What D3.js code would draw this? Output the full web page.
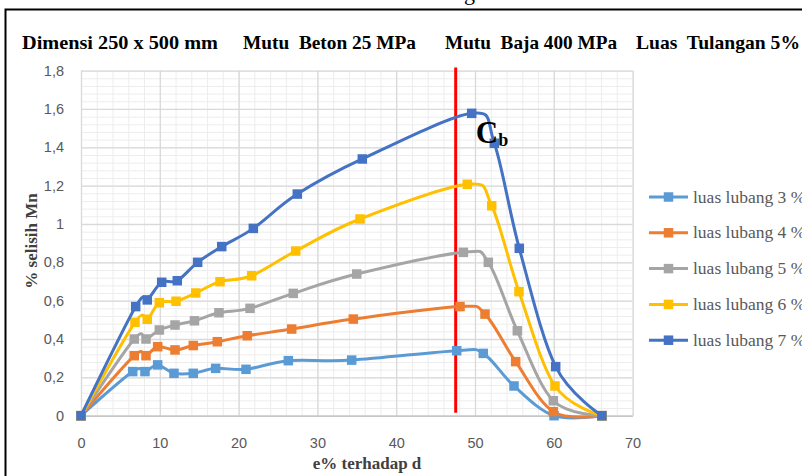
<!DOCTYPE html>
<html>
<head>
<meta charset="utf-8">
<script src="https://cdn.jsdelivr.net/npm/d3@7"></script>
<style>
    body { margin: 0; background: #fff; }
    svg { display: block; }
    text { white-space: pre; }
</style>
</head>
<body>
<div id="chart"></div>
<script>
// Series: e% terhadap d (x) and % selisih Mn (y).
const seriesNames = ["luas lubang 3 %", "luas lubang 4 %", "luas lubang 5 %", "luas lubang 6 %", "luas lubang 7 %"];

const e3 = [0, 6.56, 8.12, 9.73, 11.8, 14.25, 17.09, 20.94, 26.31, 34.35, 47.68, 51.05, 54.95, 60.03, 66.1];
const mn3 = [0, 0.23, 0.23, 0.265, 0.221, 0.221, 0.247, 0.242, 0.287, 0.29, 0.339, 0.325, 0.155, 0, 0];

const e4 = [0, 6.76, 8.25, 9.73, 11.93, 14.25, 17.3, 21.1, 26.74, 34.56, 48.1, 51.27, 55.16, 59.94, 66.1];
const mn4 = [0, 0.313, 0.313, 0.36, 0.343, 0.366, 0.386, 0.417, 0.452, 0.504, 0.569, 0.53, 0.282, 0.021, 0];

const e5 = [0, 6.76, 8.25, 9.94, 11.93, 14.4, 17.51, 21.45, 26.94, 34.99, 48.52, 51.69, 55.37, 59.94, 66.1];
const mn5 = [0, 0.4, 0.4, 0.447, 0.473, 0.495, 0.537, 0.56, 0.638, 0.739, 0.852, 0.8, 0.443, 0.078, 0];

const e6 = [0, 6.85, 8.41, 9.94, 12.06, 14.56, 17.64, 21.66, 27.25, 35.41, 49.02, 52.12, 55.58, 60.15, 66.1];
const mn6 = [0, 0.487, 0.503, 0.589, 0.597, 0.64, 0.699, 0.73, 0.859, 1.026, 1.207, 1.095, 0.647, 0.155, 0];

const e7 = [0, 6.94, 8.41, 10.24, 12.22, 14.8, 17.86, 21.87, 27.45, 35.7, 49.58, 52.45, 55.62, 60.24, 66.1];
const mn7 = [0, 0.569, 0.604, 0.696, 0.704, 0.8, 0.882, 0.977, 1.156, 1.339, 1.577, 1.421, 0.873, 0.256, 0];

// Balanced eccentricity marker (red line) and its label.
const balancedE = 47.55;
const cbLabel = {e: 50.1, v: 1.424};

// Axes.
const xTicks = [0, 10, 20, 30, 40, 50, 60, 70];
const yTicks = [0, 0.2, 0.4, 0.6, 0.8, 1, 1.2, 1.4, 1.6, 1.8];
const xTitle = "e% terhadap d";
const yTitle = "% selisih Mn";
const titleParts = ["Dimensi 250 x 500 mm", "Mutu  Beton 25 MPa", "Mutu  Baja 400 MPa", "Luas  Tulangan 5%"];

// Styling / layout (not data).
const colors = ["#5B9BD5", "#ED7D31", "#A5A5A5", "#FFC000", "#4472C4"];
const titleX = [22, 243, 445, 636];
const titleW = [196, 173, 172, 164];
const W = 802, H = 476;
const plot = {left: 81, right: 632.6, top: 70.6, bottom: 415.7};

const svg = d3.select("#chart")
    .append("svg")
    .attr("width", W)
    .attr("height", H);

svg.append("rect")
    .attr("width", W)
    .attr("height", H)
    .attr("fill", "#fff");

// outer chart border (cut by the picture edges)
svg.append("rect")
    .attr("x", 5.5)
    .attr("y", 9.5)
    .attr("width", 900)
    .attr("height", 600)
    .attr("fill", "none")
    .attr("stroke", "#000")
    .attr("stroke-width", 2);

// clipped chart title, only the descender shows
svg.append("text")
    .attr("x", 464)
    .attr("y", 0)
    .style("font-family", "Liberation Serif")
    .style("font-size", "22px")
    .text("g");

var xScale = d3.scaleLinear()
    .domain([0, 70])
    .range([plot.left, plot.right]);
var yScale = d3.scaleLinear()
    .domain([0, 1.8])
    .range([plot.bottom, plot.top]);
var plotH = plot.bottom - plot.top;
var plotW = plot.right - plot.left;

// minor gridlines
svg.append("g")
    .attr("transform", "translate(0," + plot.bottom + ")")
    .call(d3.axisBottom(xScale).tickValues(d3.range(0, 71, 2)).tickSize(-plotH).tickFormat(""))
    .call(g => g.select(".domain").remove())
    .selectAll("line").attr("stroke", "#EDEDED").attr("stroke-width", 1);
svg.append("g")
    .attr("transform", "translate(" + plot.left + ",0)")
    .call(d3.axisLeft(yScale).tickValues(d3.range(0, 46).map(i => i * 0.04)).tickSize(-plotW).tickFormat(""))
    .call(g => g.select(".domain").remove())
    .selectAll("line").attr("stroke", "#EDEDED").attr("stroke-width", 1);

// major gridlines
svg.append("g")
    .attr("transform", "translate(0," + plot.bottom + ")")
    .call(d3.axisBottom(xScale).tickValues(xTicks).tickSize(-plotH).tickFormat(""))
    .call(g => g.select(".domain").remove())
    .selectAll("line").attr("stroke", "#D9D9D9").attr("stroke-width", 1.3);
svg.append("g")
    .attr("transform", "translate(" + plot.left + ",0)")
    .call(d3.axisLeft(yScale).tickValues(yTicks).tickSize(-plotW).tickFormat(""))
    .call(g => g.select(".domain").remove())
    .selectAll("line").attr("stroke", "#D9D9D9").attr("stroke-width", 1.3);

// x axis labels + base line
var xAxis = svg.append("g")
    .attr("transform", "translate(0," + plot.bottom + ")")
    .call(d3.axisBottom(xScale).tickValues(xTicks).tickSize(0).tickPadding(22));
xAxis.select(".domain").attr("stroke", "#BFBFBF").attr("stroke-width", 1.3);
xAxis.selectAll("text")
    .style("font-family", "Liberation Sans")
    .style("font-size", "14.5px")
    .attr("fill", "#595959");

var yAxis = svg.append("g")
    .attr("transform", "translate(" + plot.left + ",0)")
    .call(d3.axisLeft(yScale).tickValues(yTicks).tickSize(0).tickPadding(17)
        .tickFormat(d => String(d).replace(".", ",")));
yAxis.select(".domain").remove();
yAxis.selectAll("text")
    .style("font-family", "Liberation Sans")
    .style("font-size", "14.5px")
    .attr("fill", "#595959");

// axis titles
svg.append("text")
    .attr("x", 367)
    .attr("y", 469)
    .attr("text-anchor", "middle")
    .style("font-family", "Liberation Serif")
    .style("font-weight", "bold")
    .style("font-size", "17px")
    .attr("fill", "#404040")
    .text(xTitle);
svg.append("text")
    .attr("transform", "translate(37,241)rotate(-90)")
    .attr("text-anchor", "middle")
    .style("font-family", "Liberation Serif")
    .style("font-weight", "bold")
    .style("font-size", "17px")
    .attr("fill", "#404040")
    .text(yTitle);

// header line of the chart
svg.selectAll(".title-part")
    .data(titleParts)
    .enter()
    .append("text")
    .attr("class", "title-part")
    .attr("x", (d, i) => titleX[i])
    .attr("y", 48.5)
    .attr("textLength", (d, i) => titleW[i])
    .attr("lengthAdjust", "spacingAndGlyphs")
    .style("font-family", "Liberation Serif")
    .style("font-weight", "bold")
    .style("font-size", "19px")
    .text(d => d);

// red vertical line
svg.append("line")
    .attr("x1", xScale(balancedE))
    .attr("x2", xScale(balancedE))
    .attr("y1", yScale(1.8) - 3)
    .attr("y2", yScale(0) - 3)
    .attr("stroke", "#FF0000")
    .attr("stroke-width", 3);

// series
var allE = [e3, e4, e5, e6, e7];
var allMn = [mn3, mn4, mn5, mn6, mn7];
var seriesData = seriesNames.map((name, i) => ({
    name: name,
    points: allE[i].map((e, j) => ({e: e, v: allMn[i][j]}))
}));

// Excel style smoothed line
var line = d3.line()
    .x(d => xScale(d.e))
    .y(d => yScale(d.v))
    .curve(d3.curveCardinal.tension(0));

var mk = 9.5;
seriesData.forEach((s, i) => {
    var g = svg.append("g");
    g.append("path")
        .attr("d", line(s.points))
        .attr("fill", "none")
        .attr("stroke", colors[i])
        .attr("stroke-width", 3)
        .attr("stroke-linejoin", "round")
        .attr("stroke-linecap", "round");
    g.selectAll("rect")
        .data(s.points)
        .enter()
        .append("rect")
        .attr("x", d => xScale(d.e) - mk / 2)
        .attr("y", d => yScale(d.v) - mk / 2)
        .attr("width", mk)
        .attr("height", mk)
        .attr("fill", colors[i]);
});

// Cb label
var cb = svg.append("text")
    .attr("x", xScale(cbLabel.e))
    .attr("y", yScale(cbLabel.v))
    .style("font-family", "Liberation Serif")
    .style("font-weight", "bold")
    .attr("fill", "#000");
cb.append("tspan").style("font-size", "31px").text("C");
cb.append("tspan").style("font-size", "18px").attr("dy", 3.5).text("b");

// legend
var legend = svg.append("g")
    .attr("transform", "translate(649,197)");
seriesNames.forEach((name, i) => {
    var row = legend.append("g")
        .attr("transform", "translate(0," + (i * 35.8) + ")");
    row.append("line")
        .attr("x1", 0)
        .attr("x2", 39)
        .attr("stroke", colors[i])
        .attr("stroke-width", 3);
    row.append("rect")
        .attr("x", 19.5 - mk / 2)
        .attr("y", -mk / 2)
        .attr("width", mk)
        .attr("height", mk)
        .attr("fill", colors[i]);
    row.append("text")
        .attr("x", 44)
        .attr("dy", "0.32em")
        .style("font-family", "Liberation Serif")
        .style("font-size", "17.5px")
        .attr("fill", "#595959")
        .text(name);
});
</script>
</body>
</html>
